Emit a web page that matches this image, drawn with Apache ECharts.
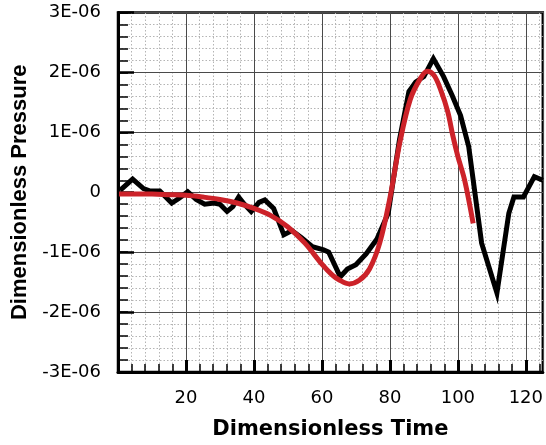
<!DOCTYPE html>
<html>
<head>
<meta charset="utf-8">
<script src="https://cdn.jsdelivr.net/npm/echarts@6/dist/echarts.min.js"></script>
<style>
html,body{margin:0;padding:0;background:#fff;}
#chart{width:546px;height:445px;}
</style>
</head>
<body>
<div id="chart"></div>
<script>
// Time values (dimensionless) and pressure values in units of 1E-06
const blackTime = [0.6, 4.3, 7.5, 9.5, 12.3, 15.8, 18, 20.5, 23, 25.5, 28.3, 30, 32.1, 33.8, 35.5, 37.2, 39.2, 41.5, 43.2, 45.8, 48.8, 51.2, 54, 57.2, 60.5, 62, 65.4, 67.5, 70, 73, 76.2, 79.5, 82.8, 85.6, 87.6, 90, 92.8, 95.8, 98.3, 100.8, 103.2, 107, 111.5, 115, 116.5, 119.3, 122.5, 125];
const blackPressure = [0.03, 0.22, 0.06, 0.02, 0.02, -0.18, -0.1, 0.01, -0.12, -0.2, -0.18, -0.2, -0.32, -0.24, -0.08, -0.2, -0.32, -0.17, -0.13, -0.27, -0.71, -0.64, -0.76, -0.91, -0.96, -1.0, -1.41, -1.28, -1.21, -1.03, -0.78, -0.35, 0.87, 1.68, 1.84, 1.93, 2.23, 1.93, 1.62, 1.28, 0.76, -0.85, -1.68, -0.35, -0.08, -0.08, 0.26, 0.2];

const redTime = [0.3, 5, 10, 15, 20, 25, 30, 35, 40, 45, 50, 55, 60, 63, 65, 68, 71, 74, 77, 80, 83, 86, 89, 91, 93, 95, 97, 98.5, 100, 102, 104.5];
const redPressure = [-0.03, -0.03, -0.03, -0.04, -0.05, -0.08, -0.12, -0.18, -0.27, -0.39, -0.58, -0.85, -1.2, -1.38, -1.46, -1.53, -1.47, -1.28, -0.85, -0.1, 0.85, 1.55, 1.9, 2.02, 1.95, 1.7, 1.35, 0.95, 0.6, 0.2, -0.52];

const yTickValues = [-3, -2, -1, 0, 1, 2, 3];
const yTickLabels = ['-3E-06', '-2E-06', '-1E-06', '0', '1E-06', '2E-06', '3E-06'];
const xTickLabels = ['20', '40', '60', '80', '100', '120'];

const xTitle = 'Dimensionless Time';
const yTitle = 'Dimensionless Pressure';

function pairs(xs, ys) { return xs.map((x, i) => [x, ys[i]]); }

const chart = echarts.init(document.getElementById('chart'), null, {renderer: 'canvas'});
const labelFont = {fontFamily: 'DejaVu Sans', fontSize: 18, color: '#000'};

chart.setOption({
  animation: false,
  backgroundColor: '#fff',
  grid: {left: 118, right: 1, top: 12.5, bottom: 73, show: true, borderColor: '#000', borderWidth: 2.5},
  xAxis: [
    {
      type: 'value', min: 0, max: 125, interval: 20, position: 'bottom',
      name: xTitle, nameLocation: 'middle', nameGap: 47,
      nameTextStyle: {fontFamily: 'DejaVu Sans', fontWeight: 'bold', fontSize: 21, color: '#000'},
      axisLine: {show: true, onZero: false, lineStyle: {color: '#000', width: 3}},
      axisTick: {show: true, inside: true, length: 12, lineStyle: {color: '#000', width: 3}},
      axisLabel: Object.assign({margin: 17, showMinLabel: false, showMaxLabel: false,
        formatter: v => { const s = String(v); return xTickLabels.indexOf(s) >= 0 ? s : ''; }}, labelFont),
      splitLine: {show: true, lineStyle: {color: '#4a4a4a', width: 1}},
      z: 3
    },
    {
      type: 'value', min: 0, max: 125, interval: 4, position: 'bottom',
      axisLine: {show: false, onZero: false},
      axisTick: {show: true, inside: true, length: 8, lineStyle: {color: '#000', width: 1.5}},
      axisLabel: {show: false},
      splitLine: {show: true, lineStyle: {color: '#b4b4b4', width: 1, type: [1.5, 2]}},
      z: 1
    }
  ],
  yAxis: [
    {
      type: 'value', min: -3, max: 3, interval: 1, position: 'left',
      name: yTitle, nameLocation: 'middle', nameGap: 86,
      nameTextStyle: {fontFamily: 'Liberation Sans', fontWeight: 'bold', fontSize: 22, color: '#000'},
      axisLine: {show: true, onZero: false, lineStyle: {color: '#000', width: 3}},
      axisTick: {show: true, inside: true, length: 16, lineStyle: {color: '#000', width: 2.5}},
      axisLabel: Object.assign({margin: 17,
        formatter: v => { const i = yTickValues.indexOf(Math.round(v)); return i >= 0 ? yTickLabels[i] : ''; }}, labelFont),
      splitLine: {show: true, lineStyle: {color: '#4a4a4a', width: 1}},
      z: 3
    },
    {
      type: 'value', min: -3, max: 3, interval: 0.2, position: 'left',
      axisLine: {show: false, onZero: false},
      axisTick: {show: true, inside: true, length: 10, lineStyle: {color: '#000', width: 1.5}},
      axisLabel: {show: false},
      splitLine: {show: true, lineStyle: {color: '#b4b4b4', width: 1, type: [1.5, 2]}},
      z: 1
    }
  ],
  series: [
    {
      type: 'line', xAxisIndex: 0, yAxisIndex: 0,
      data: pairs(blackTime, blackPressure),
      showSymbol: false, symbol: 'none',
      lineStyle: {color: '#000', width: 5, join: 'miter'},
      z: 5
    },
    {
      type: 'line', xAxisIndex: 0, yAxisIndex: 0,
      data: pairs(redTime, redPressure),
      showSymbol: false, symbol: 'none', smooth: 0.35,
      lineStyle: {color: '#cc2229', width: 5},
      z: 6
    }
  ]
});
</script>
</body>
</html>
